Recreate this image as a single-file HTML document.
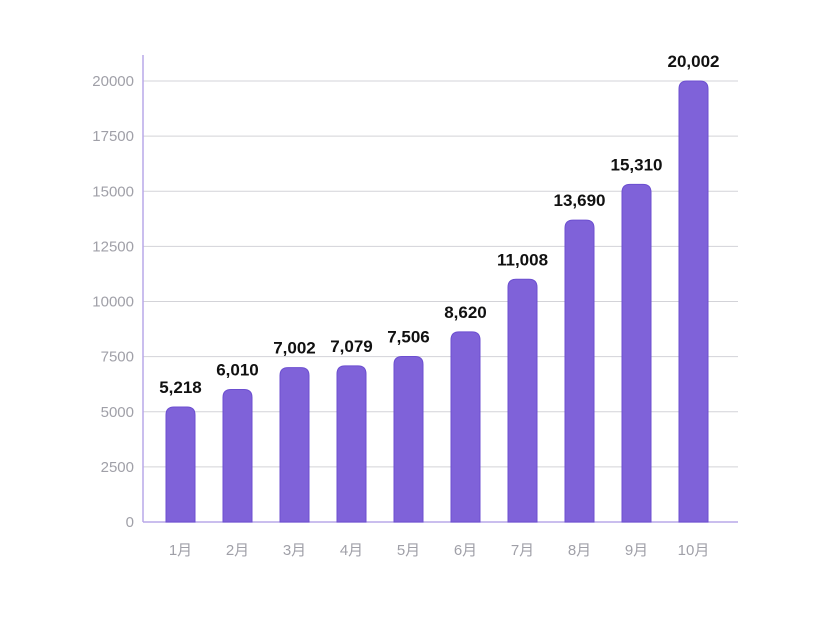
<!DOCTYPE html>
<html><head><meta charset="utf-8"><style>
body{margin:0;background:#fff}
svg text{font-family:"Liberation Sans","Noto Sans CJK SC",sans-serif}
</style></head><body>
<svg id="chart" width="836" height="628" xmlns="http://www.w3.org/2000/svg"></svg>
<script>
const categories=["1月","2月","3月","4月","5月","6月","7月","8月","9月","10月"];
const values=[5218,6010,7002,7079,7506,8620,11008,13690,15310,20002];
const valueLabels=["5,218","6,010","7,002","7,079","7,506","8,620","11,008","13,690","15,310","20,002"];
const yTicks=[0,2500,5000,7500,10000,12500,15000,17500,20000];
const NS="http://www.w3.org/2000/svg";
const svg=document.getElementById('chart');
const y0=522,yPer=(522-81)/20000;
function y(v){return y0-v*yPer;}
function x(i){return 180.5+57*i;}
function el(t,a,p){const e=document.createElementNS(NS,t);for(const k in a)e.setAttribute(k,a[k]);(p||svg).appendChild(e);return e;}
yTicks.forEach(t=>{
  if(t>0){const g=el('line',{x1:143,x2:738,y1:y(t),y2:y(t),stroke:'#d3d3d8','stroke-width':1});
  
  }
  const l=el('text',{x:134,y:y(t)+5,'text-anchor':'end','font-size':15,fill:'#a0a0a8'});
  l.textContent=t;
  
  
});
const ax=el('line',{x1:143,x2:143,y1:55,y2:522,stroke:'#b9a8e8','stroke-width':1.5});


const bx=el('line',{x1:143,x2:738,y1:522,y2:522,stroke:'#b9a8e8','stroke-width':1.5});


const w=29,r=8;
values.forEach((v,i)=>{
  const cx=x(i),top=y(v),l=cx-w/2,rr=cx+w/2;
  const p=el('path',{d:`M${l},${y0}V${top+r}Q${l},${top} ${l+r},${top}H${rr-r}Q${rr},${top} ${rr},${top+r}V${y0}Z`,fill:'#7f62d9',stroke:'#6c4fd0','stroke-width':1});
  
  
  const t=el('text',{x:cx,y:top-14,'text-anchor':'middle','font-size':17,'font-weight':'bold',fill:'#111'});
  t.textContent=valueLabels[i];
  
  
  const c=el('text',{x:cx,y:555,'text-anchor':'middle','font-size':15,fill:'#a0a0a8'});
  c.textContent=categories[i];
  
  
});
</script>
</body></html>
